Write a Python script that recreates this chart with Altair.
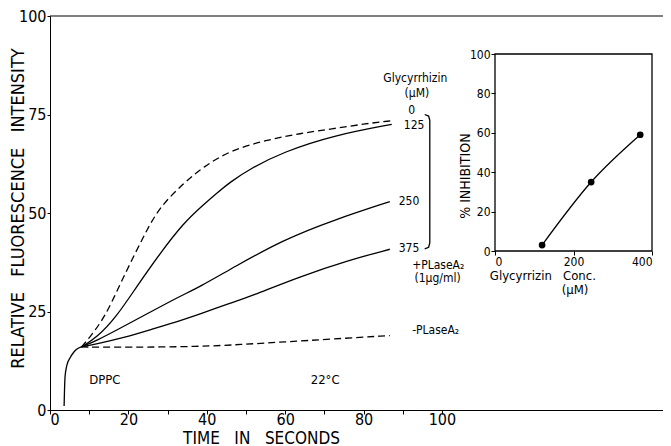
import altair as alt
import pandas as pd

FONT = "DejaVu Sans Condensed, Liberation Sans Narrow, DejaVu Sans, sans-serif"

# ---- main panel data (time in s, relative fluorescence) ----
base_t = [3.6, 3.7, 3.85, 4.3, 5.1, 6.0, 6.8, 8.0]
base_v = [1.0, 5.0, 8.6, 11.3, 13.2, 14.6, 15.4, 16.0]

c0_t = [8.0, 9.8, 14.0, 17.9, 21.3, 24.7, 28.1, 34.0, 39.1, 46.0, 55.2, 63.8, 72.3, 80.7, 87.2]
c0_v = [16.0, 18.0, 23.5, 32.0, 38.9, 45.7, 51.6, 57.5, 61.7, 65.9, 68.5, 70.2, 71.4, 72.7, 73.4]

c125_t = [8.0, 11.9, 17.0, 22.1, 28.1, 34.0, 39.0, 42.5, 45.9, 51.0, 59.5, 72.3, 87.2]
c125_v = [16.0, 18.3, 23.7, 31.3, 39.8, 47.4, 52.0, 55.0, 57.8, 61.2, 65.5, 69.7, 72.5]

c250_t = [8.0, 11.9, 18.0, 25.5, 33.0, 38.3, 46.8, 59.5, 72.3, 86.7]
c250_v = [16.0, 17.6, 20.8, 24.8, 28.8, 31.3, 36.2, 43.2, 48.2, 52.9]

c375_t = [8.0, 12.0, 18.7, 26.0, 34.0, 38.3, 45.9, 51.0, 63.8, 76.5, 86.7]
c375_v = [16.0, 16.8, 18.3, 20.5, 22.9, 24.4, 27.1, 28.8, 33.9, 38.1, 40.8]

cneg_t = [8.0, 20.0, 38.3, 48.5, 60.0, 72.0, 86.7]
cneg_v = [16.0, 15.9, 16.1, 16.6, 17.3, 18.0, 18.9]

bracket_t = [95.6, 96.6, 96.9, 96.9, 96.6, 95.6]
bracket_v = [75.0, 74.6, 73.5, 42.4, 41.3, 40.9]

ann_text = ["Glycyrrhizin", "(μM)", "0", "125", "250", "375"]
ann_t = [93.2, 93.6, 92.3, 92.9, 91.6, 91.6]
ann_v = [84.2, 80.4, 76.2, 72.3, 53.0, 41.1]

cond_text = ["DPPC", "22°C"]
cond_t = [14.0, 70.2]
cond_v = [7.7, 7.7]

left_text = ["+PLaseA₂", "(1μg/ml)", "-PLaseA₂"]
left_t = [92.4, 93.0, 92.4]
left_v = [36.8, 33.5, 20.4]

# ---- inset data ----
conc = [120, 245, 370]
inhib = [3, 35, 59]

X_MAX = 156.4
W, H = 613, 394


def series(t, v, name):
    return pd.DataFrame({"t": t, "v": v, "s": name, "idx": list(range(len(t)))})


xs = alt.Scale(domain=[0, X_MAX], nice=False)
ys = alt.Scale(domain=[0, 100], nice=False)

x_axis = alt.Axis(values=list(range(0, 101, 10)),
                  labelExpr="datum.value % 20 == 0 ? datum.label : ''",
                  title="TIME\u00a0\u00a0 IN\u00a0\u00a0 SECONDS",
                  titleX=211, titleY=28, titleAlign="center", titleBaseline="middle",
                  labelFontSize=16, titleFontSize=17, titleFontWeight="normal",
                  labelFont=FONT, titleFont=FONT, tickSize=4, labelPadding=-3,
                  grid=False, domainColor="black", tickColor="black", labelColor="black",
                  titleColor="black")
y_axis = alt.Axis(values=[0, 25, 50, 75, 100],
                  title="RELATIVE\u00a0\u00a0 FLUORESCENCE\u00a0\u00a0 INTENSITY",
                  titleX=-32, titleY=192, titleAlign="center", titleBaseline="middle",
                  labelFontSize=16, titleFontSize=18, titleFontWeight="normal",
                  labelFont=FONT, titleFont=FONT, tickSize=3, labelPadding=1,
                  grid=False, domainColor="black", tickColor="black", labelColor="black",
                  titleColor="black")

X = alt.X("t:Q", scale=xs, axis=x_axis)
Y = alt.Y("v:Q", scale=ys, axis=y_axis)


def line(df, dashed=False, interp="basis"):
    m = alt.Chart(df).mark_line(color="black", strokeWidth=1.3, interpolate=interp,
                                **({"strokeDash": [7, 4]} if dashed else {}))
    return m.encode(x=X, y=Y, order="idx:Q")


base = line(series(base_t, base_v, "base"), interp="monotone")
l0 = line(series(c0_t, c0_v, "0"), dashed=True)
l125 = line(series(c125_t, c125_v, "125"))
l250 = line(series(c250_t, c250_v, "250"))
l375 = line(series(c375_t, c375_v, "375"))
lneg = line(series(cneg_t, cneg_v, "neg"), dashed=True)
bracket = line(series(bracket_t, bracket_v, "br"), interp="linear")

top_rule = alt.Chart(pd.DataFrame({"v": [100]})).mark_rule(color="black", strokeWidth=1.2).encode(
    y=Y)

ann = alt.Chart(pd.DataFrame({"t": ann_t, "v": ann_v, "txt": ann_text})).mark_text(
    font=FONT, fontSize=12, color="black", align="center", baseline="middle").encode(
    x=X, y=Y, text="txt:N")

cond = alt.Chart(pd.DataFrame({"t": cond_t, "v": cond_v, "txt": cond_text})).mark_text(
    font=FONT, fontSize=13, color="black", align="center", baseline="middle").encode(
    x=X, y=Y, text="txt:N")

ann_left = alt.Chart(pd.DataFrame({"t": left_t, "v": left_v, "txt": left_text})).mark_text(
    font=FONT, fontSize=12, color="black", align="left", baseline="middle").encode(
    x=X, y=Y, text="txt:N")

main = alt.layer(base, l0, l125, l250, l375, lneg, bracket, top_rule, ann, cond, ann_left)

# ---- inset ----
ixs = alt.Scale(domain=[0, 400], range=[445, 602], nice=False)
iys = alt.Scale(domain=[0, 100], range=[235, 38], nice=False)

ix_axis = alt.Axis(orient="bottom", offset=-159, values=[0, 200, 400], title=None,
                   labelFontSize=12, labelFont=FONT, tickSize=4, labelPadding=1, grid=False,
                   domain=False, tickColor="black", labelColor="black")
iy_axis = alt.Axis(orient="left", offset=-445, values=[0, 20, 40, 60, 80, 100], title=None,
                   labelFontSize=12, labelFont=FONT, tickSize=4, labelPadding=1, grid=False,
                   domain=False, tickColor="black", labelColor="black")

IX = alt.X("c:Q", scale=ixs, axis=ix_axis)
IY = alt.Y("p:Q", scale=iys, axis=iy_axis)

inset_df = pd.DataFrame({"c": conc, "p": inhib})

frame = alt.Chart(pd.DataFrame({"c": [0], "c2": [400], "p": [0], "p2": [100]})).mark_rect(
    fill="white", fillOpacity=0, stroke="black", strokeWidth=1.3).encode(
    x=IX, x2="c2:Q", y=IY, y2="p2:Q")

iline = alt.Chart(inset_df).mark_line(color="black", strokeWidth=1.3, interpolate="monotone").encode(
    x=IX, y=IY)
ipts = alt.Chart(inset_df).mark_point(filled=True, color="black", size=45, opacity=1).encode(
    x=IX, y=IY)

itxt_text = ["Glycyrrizin\u00a0\u00a0 Conc.", "(μM)"]
itxt_x = [122, 204]
itxt_y = [-12.8, -19.8]
itxt = alt.Chart(pd.DataFrame({"c": itxt_x, "p": itxt_y, "txt": itxt_text})).mark_text(
    font=FONT, fontSize=13, color="black", align="center", baseline="middle").encode(
    x=IX, y=IY, text="txt:N")

ititle = alt.Chart(pd.DataFrame({"c": [-74], "p": [38], "txt": ["% INHIBITION"]})).mark_text(
    font=FONT, fontSize=14, color="black", align="center", baseline="middle", angle=270).encode(
    x=IX, y=IY, text="txt:N")

inset = alt.layer(frame, iline, ipts, itxt, ititle)

chart = alt.layer(main, inset).resolve_scale(x="independent", y="independent").properties(
    width=W, height=H,
    autosize=alt.AutoSizeParams(type="none"),
    padding={"left": 42, "top": 8, "right": 0, "bottom": 36},
    background="white",
).configure_view(strokeWidth=0)

chart.save("out.html", embed_options={"renderer": "svg", "actions": False})
